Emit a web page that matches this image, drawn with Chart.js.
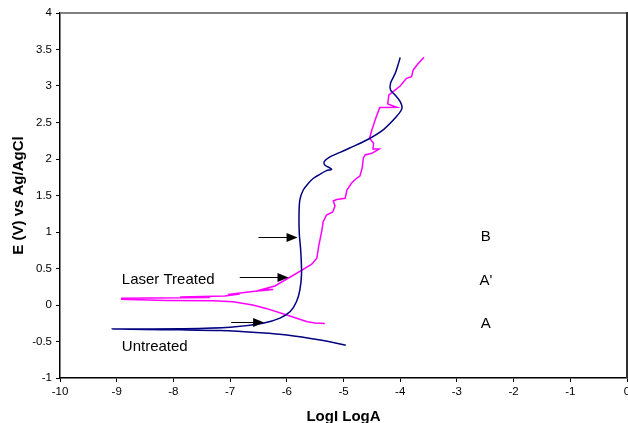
<!DOCTYPE html>
<html>
<head>
<meta charset="utf-8">
<script src="https://cdn.jsdelivr.net/npm/chart.js@4/dist/chart.umd.min.js"></script>
<style>
html, body { margin: 0; padding: 0; background: #fff; }
</style>
</head>
<body>
<canvas id="grafico-tafel" width="628" height="423"></canvas>
<script>
// Curvas de polarización (Tafel) - sin tratar vs tratado con láser
var untreatedX = [-4.96, -5.41, -6.00, -6.47, -7.18, -7.88, -9.08,
    -7.88, -7.00, -6.42, -6.12, -5.94, -5.83, -5.77, -5.74, -5.755, -5.78, -5.785, -5.77,
    -5.71, -5.62, -5.53, -5.44, -5.30, -5.21, -5.33, -5.34, -5.24, -5.06, -4.89, -4.59,
    -4.30, -4.09, -3.97, -4.00, -4.09, -4.17, -4.17, -4.09, -4.03, -4.00];
var untreatedY = [-0.55, -0.48, -0.41, -0.38, -0.35, -0.34, -0.33,
    -0.325, -0.305, -0.25, -0.18, -0.09, 0.045, 0.205, 0.43, 0.75, 0.98, 1.21, 1.44,
    1.575, 1.667, 1.736, 1.78, 1.84, 1.86, 1.918, 1.963, 2.03, 2.09, 2.15, 2.26,
    2.40, 2.56, 2.69, 2.785, 2.877, 2.945, 3.04, 3.17, 3.31, 3.39];

var laserX = [-5.33, -5.50, -5.64, -6.00, -6.35, -6.60, -6.95, -7.30, -8.12, -8.91,
    -8.91, -7.35, -7.88, -7.09, -6.83, -7.04, -6.60, -6.24, -6.44, -6.21, -6.00,
    -5.74, -5.56, -5.47, -5.44, -5.41, -5.38, -5.36, -5.30, -5.19, -5.15, -5.18, -5.12,
    -4.97, -4.94, -4.86, -4.77, -4.71, -4.67, -4.65, -4.62, -4.50, -4.37, -4.48, -4.47,
    -4.54, -4.50, -4.43, -4.36, -4.06, -4.22, -4.20, -4.00, -3.89, -3.80, -3.77, -3.69, -3.58];
var laserY = [-0.253, -0.247, -0.229, -0.137, -0.05, 0.0, 0.045, 0.058, 0.062, 0.078,
    0.092, 0.103, 0.11, 0.123, 0.151, 0.144, 0.185, 0.212, 0.212, 0.26, 0.356,
    0.473, 0.56, 0.64, 0.795, 0.914, 1.027, 1.137, 1.233, 1.274, 1.356, 1.425, 1.445,
    1.462, 1.575, 1.667, 1.736, 1.767, 1.877, 2.014, 2.055, 2.078, 2.137, 2.137, 2.215,
    2.284, 2.397, 2.562, 2.705, 2.708, 2.753, 2.877, 3.00, 3.105, 3.127, 3.22, 3.30, 3.393];

var xTicks = [-10, -9, -8, -7, -6, -5, -4, -3, -2, -1, 0];
var yTicks = [-1, -0.5, 0, 0.5, 1, 1.5, 2, 2.5, 3, 3.5, 4];

// Textos y flechas en coordenadas de datos
var textos = ['Laser Treated', 'Untreated', 'B', "A'", 'A'];
var textosX = [-8.91, -8.91, -2.49, -2.49, -2.49];
var textosY = [0.34, -0.575, 0.93, 0.33, -0.26];
var textosAlign = ['left', 'left', 'center', 'center', 'center'];

var flechasX1 = [-6.50, -6.83, -6.98];
var flechasX2 = [-5.81, -5.97, -6.40];
var flechasY = [0.927, 0.38, -0.23];

function toPoints(xs, ys) {
    return xs.map(function (x, i) { return { x: x, y: ys[i] }; });
}

var fuente = 'Arial, "Liberation Sans", sans-serif';

var anotaciones = {
    id: 'anotaciones',
    afterDatasetsDraw: function (chart) {
        var ctx = chart.ctx;
        var sx = chart.scales.x, sy = chart.scales.y;
        var a = chart.chartArea;
        ctx.save();
        // marco superior y derecho
        ctx.lineWidth = 2;
        ctx.strokeStyle = '#808080';
        ctx.beginPath();
        ctx.moveTo(a.left, a.top);
        ctx.lineTo(a.right, a.top);
        ctx.stroke();
        ctx.strokeStyle = '#303030';
        ctx.beginPath();
        ctx.moveTo(a.right, a.top - 1);
        ctx.lineTo(a.right, a.bottom);
        ctx.stroke();

        // flechas
        ctx.strokeStyle = '#000';
        ctx.fillStyle = '#000';
        ctx.lineWidth = 1;
        for (var i = 0; i < flechasX1.length; i++) {
            var x1 = sx.getPixelForValue(flechasX1[i]);
            var x2 = sx.getPixelForValue(flechasX2[i]);
            var y = Math.round(sy.getPixelForValue(flechasY[i])) + 0.5;
            ctx.beginPath();
            ctx.moveTo(x1, y);
            ctx.lineTo(x2 - 8, y);
            ctx.stroke();
            ctx.beginPath();
            ctx.moveTo(x2, y);
            ctx.lineTo(x2 - 11, y - 4.5);
            ctx.lineTo(x2 - 11, y + 4.5);
            ctx.closePath();
            ctx.fill();
        }

        // textos
        ctx.font = '15px ' + fuente;
        ctx.textBaseline = 'middle';
        for (var j = 0; j < textos.length; j++) {
            ctx.textAlign = textosAlign[j];
            ctx.fillText(textos[j], sx.getPixelForValue(textosX[j]), sy.getPixelForValue(textosY[j]));
        }
        ctx.restore();
    }
};

var ctx = document.getElementById('grafico-tafel').getContext('2d');
new Chart(ctx, {
    type: 'scatter',
    data: {
        datasets: [{
            label: 'Untreated',
            data: toPoints(untreatedX, untreatedY),
            showLine: true,
            borderColor: '#000080',
            borderWidth: 1.5,
            pointRadius: 0,
            tension: 0.3
        }, {
            label: 'Laser Treated',
            data: toPoints(laserX, laserY),
            showLine: true,
            borderColor: '#ff00ff',
            borderWidth: 1.5,
            pointRadius: 0,
            tension: 0
        }]
    },
    options: {
        responsive: false,
        animation: false,
        devicePixelRatio: 1,
        layout: { padding: { top: 13, right: 1, left: 0, bottom: 0 } },
        plugins: {
            legend: { display: false },
            tooltip: { enabled: false }
        },
        scales: {
            x: {
                type: 'linear',
                min: -10,
                max: 0,
                afterBuildTicks: function (s) { s.ticks = xTicks.map(function (v) { return { value: v }; }); },
                afterFit: function (s) { s.height = 45; s.paddingLeft = 0; s.paddingRight = 0; },
                grid: { display: true, drawOnChartArea: false, drawTicks: true, tickLength: 4, color: '#000' },
                border: { display: true, color: '#000', width: 1.5 },
                ticks: { color: '#000', font: { family: fuente, size: 11.5 }, padding: 3, maxRotation: 0, autoSkip: false,
                    callback: function (v) { return String(v); } },
                title: { display: true, text: 'LogI LogA', color: '#000', font: { family: fuente, size: 15, weight: 'bold' }, padding: { top: 0, bottom: -3 } }
            },
            y: {
                type: 'linear',
                min: -1,
                max: 4,
                afterBuildTicks: function (s) { s.ticks = yTicks.map(function (v) { return { value: v }; }); },
                afterFit: function (s) { s.width = 60; },
                grid: { display: true, drawOnChartArea: false, drawTicks: true, tickLength: 4, color: '#000' },
                border: { display: true, color: '#000', width: 1.5 },
                ticks: { color: '#000', font: { family: fuente, size: 11.5 }, padding: 4, autoSkip: false,
                    callback: function (v) { return String(v); } },
                title: { display: true, text: 'E (V) vs Ag/AgCl', color: '#000', font: { family: fuente, size: 15, weight: 'bold' }, padding: { top: 10, bottom: 0 } }
            }
        }
    },
    plugins: [anotaciones]
});
</script>
</body>
</html>
